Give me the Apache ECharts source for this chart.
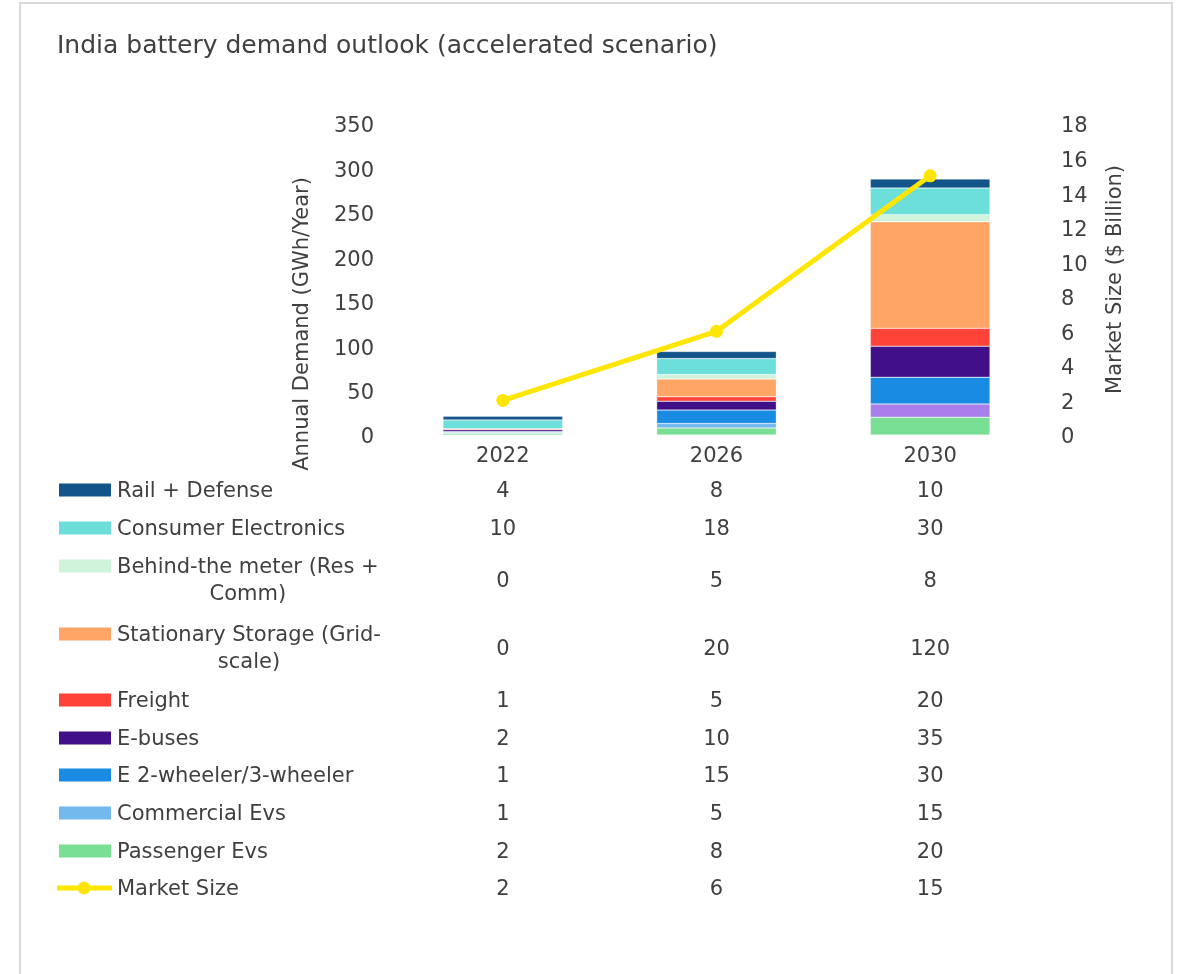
<!DOCTYPE html>
<html>
<head>
<meta charset="utf-8">
<script src="https://cdn.jsdelivr.net/npm/echarts@6/dist/echarts.min.js"></script>
<style>
html, body { margin: 0; padding: 0; background: #fff; }
#chart { width: 1183px; height: 974px; }
</style>
</head>
<body>
<div id="chart"></div>
<script>
// categories
var years = ['2022', '2026', '2030'];
// GWh/year per segment
var railDefense = [4, 8, 10];
var consumerElectronics = [10, 18, 30];
var behindMeter = [0, 5, 8];
var stationaryStorage = [0, 20, 120];
var freight = [1, 5, 20];
var eBuses = [2, 10, 35];
var e2w3w = [1, 15, 30];
var commercialEvs = [1, 5, 15];
var passengerEvs = [2, 8, 20];
// $ billion
var marketSize = [2, 6, 15];

var FONT = '"DejaVu Sans", "Open Sans", sans-serif';
var TXT = '#404040';
var TFONT = '21px ' + FONT;

// table rows, top to bottom (same order as the data table)
var rows = [
	{ name: 'Rail + Defense', lines: ['Rail + Defense'], data: railDefense, color: '#13558A', y: 490 },
	{ name: 'Consumer Electronics', lines: ['Consumer Electronics'], data: consumerElectronics, color: '#6CDFDA', y: 528 },
	{ name: 'Behind-the meter (Res + Comm)', lines: ['Behind-the meter (Res +', 'Comm)'], data: behindMeter, color: '#D0F3DC', y: 566 },
	{ name: 'Stationary Storage (Grid-scale)', lines: ['Stationary Storage (Grid-', 'scale)'], data: stationaryStorage, color: '#FFA666', y: 634 },
	{ name: 'Freight', lines: ['Freight'], data: freight, color: '#FF4338', y: 700 },
	{ name: 'E-buses', lines: ['E-buses'], data: eBuses, color: '#410F87', y: 738 },
	{ name: 'E 2-wheeler/3-wheeler', lines: ['E 2-wheeler/3-wheeler'], data: e2w3w, color: '#1A8BE2', y: 775 },
	{ name: 'Commercial Evs', lines: ['Commercial Evs'], data: commercialEvs, color: '#74B9EE', y: 813 },
	{ name: 'Passenger Evs', lines: ['Passenger Evs'], data: passengerEvs, color: '#78DF95', y: 851 }
];
var lineRowY = 888;
var lineColor = '#FFE600';

var chart = echarts.init(document.getElementById('chart'));

// stacked bars bottom-up = reverse of table order
var series = [];
for (var i = rows.length - 1; i >= 0; i--) {
	var r = rows[i];
	var d = r.data.map(function(v, k) {
		// the 2030 commercial segment is drawn lavender in the original
		if (r.name === 'Commercial Evs' && k === 2) {
			return { value: v, itemStyle: { color: '#A97FEC' } };
		}
		return v;
	});
	series.push({
		name: r.name,
		type: 'bar',
		stack: 'demand',
		barWidth: '56%',
		data: d,
		itemStyle: { color: r.color, borderColor: 'rgba(255,255,255,0.6)', borderWidth: 0.5 }
	});
}
series.push({
	name: 'Market Size',
	type: 'line',
	yAxisIndex: 1,
	data: marketSize,
	symbol: 'circle',
	symbolSize: 13,
	lineStyle: { color: lineColor, width: 5 },
	itemStyle: { color: lineColor },
	z: 10
});

// tick labels nudged down a few px through rich padding
var tickRich = { t: { fontFamily: FONT, fontSize: 21, color: TXT, padding: [6, 0, 0, 0] } };

var option = {
	animation: false,
	backgroundColor: '#fff',
	title: {
		text: 'India battery demand outlook (accelerated scenario)',
		left: 52,
		top: 29,
		textStyle: { fontFamily: FONT, fontSize: 25, fontWeight: 'normal', color: TXT }
	},
	grid: { left: 396, right: 146, top: 124, bottom: 539 },
	xAxis: {
		type: 'category',
		data: years,
		axisLine: { show: false },
		axisTick: { show: false },
		axisLabel: { fontFamily: FONT, fontSize: 21, color: TXT, margin: 11 }
	},
	yAxis: [{
		type: 'value',
		min: 0, max: 350, interval: 50,
		splitLine: { show: false },
		axisLine: { show: false },
		axisTick: { show: false },
		axisLabel: { formatter: '{t|{value}}', rich: tickRich, margin: 22 }
	}, {
		type: 'value',
		min: 0, max: 18, interval: 2,
		splitLine: { show: false },
		axisLine: { show: false },
		axisTick: { show: false },
		axisLabel: { formatter: '{t|{value}}', rich: tickRich, margin: 24 },
		name: 'Market Size ($ Billion)',
		nameLocation: 'middle',
		nameGap: 68,
		nameRotate: 90,
		nameTextStyle: { fontFamily: FONT, fontSize: 21, color: TXT }
	}],
	series: series
};
chart.setOption(option);

// data table under the plot, values placed on the category axis
var ctx = document.createElement('canvas').getContext('2d');
ctx.font = TFONT;
var g = [];
g.push({
	type: 'rect', silent: true, z: -1,
	shape: { x: 20, y: 3, width: 1152, height: 1000 },
	style: { fill: 'none', stroke: '#D9D9D9', lineWidth: 2 }
});
g.push({
	type: 'text',
	x: 303, y: 324, rotation: Math.PI / 2,
	style: { text: 'Annual Demand (GWh/Year)', font: TFONT, fill: TXT, textAlign: 'center', textVerticalAlign: 'middle' }
});
var xs = years.map(function(y) { return chart.convertToPixel({ xAxisIndex: 0 }, y); });
var textX = 117;
function txt(x, y, s, align) {
	// glyphs of this font sit a little high, nudge down
	return { type: 'text', x: x, y: y + 2, style: { text: s, font: TFONT, fill: TXT, textAlign: align, textVerticalAlign: 'middle' } };
}
rows.forEach(function(r) {
	g.push({
		type: 'rect', shape: { x: 59, y: r.y - 6.5, width: 52, height: 13 },
		style: { fill: r.color }
	});
	var midY = r.y;
	g.push(txt(textX, r.y, r.lines[0], 'left'));
	if (r.lines.length > 1) {
		var w = ctx.measureText(r.lines[0]).width;
		g.push(txt(textX + w / 2, r.y + 27, r.lines[1], 'center'));
		midY = r.y + 14;
	}
	r.data.forEach(function(v, k) {
		g.push(txt(xs[k], midY, String(v), 'center'));
	});
});
// market size row
g.push({ type: 'line', shape: { x1: 57, y1: lineRowY, x2: 112, y2: lineRowY }, style: { stroke: lineColor, lineWidth: 5 } });
g.push({ type: 'circle', shape: { cx: 84, cy: lineRowY, r: 6.5 }, style: { fill: lineColor } });
g.push(txt(textX, lineRowY, 'Market Size', 'left'));
marketSize.forEach(function(v, k) {
	g.push(txt(xs[k], lineRowY, String(v), 'center'));
});

chart.setOption({ graphic: g });
</script>
</body>
</html>
